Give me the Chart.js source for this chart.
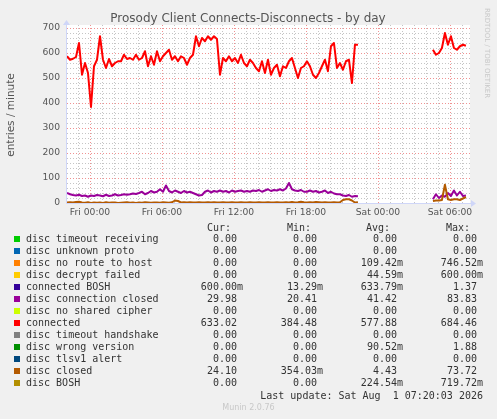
<!DOCTYPE html>
<html>
<head>
<meta charset="utf-8">
<script src="https://cdn.jsdelivr.net/npm/chart.js@4.4.1/dist/chart.umd.min.js"></script>
<style>
  body { margin: 0; background: #f0f0f0; width: 497px; height: 419px; overflow: hidden; position: relative; }
  #wrap { position: absolute; left: 0; top: 0; width: 497px; height: 220px; }
  #legend { position: absolute; left: 0; top: 0; width: 497px; height: 419px; font-family: "DejaVu Sans Mono", monospace; font-size: 10px; color: #333; }
  .t { position: absolute; white-space: pre; line-height: 12px; }
  .sq { position: absolute; width: 6px; height: 6px; }
  #munin { position: absolute; left: 0; width: 497px; top: 403px; text-align: center; font: 8px "DejaVu Sans", sans-serif; color: #c8c8c8; }
</style>
</head>
<body>
<div id="wrap"><canvas id="grafica" width="497" height="220"></canvas></div>
<div id="legend"></div>
<div id="munin">Munin 2.0.76</div>
<script>
// muestras cada 15 min, la primera en Thu 22:05 (horas relativas a Fri 00:00)
const START_HOUR = -1.92;
const STEP_HOUR = 0.25;
const X_MIN = -1.92, X_MAX = 31.67;

const tickHours = [0, 6, 12, 18, 24, 30];
const tickLabels = ['Fri 00:00', 'Fri 06:00', 'Fri 12:00', 'Fri 18:00', 'Sat 00:00', 'Sat 06:00'];
const yTicks = [0, 100, 200, 300, 400, 500, 600, 700];

const gap = new Array(24).fill(null); // hueco sin datos (Fri 22:30 - Sat 04:30)

const connected = [
  587,573,577,584,640,513,560,520,384,547,
  573,667,573,540,576,547,560,567,567,593,
  576,580,573,593,573,580,607,547,587,553,
  607,567,587,600,613,573,587,567,587,580,
  553,580,593,667,627,660,647,667,653,667,
  656,513,580,567,587,567,580,560,593,560,
  547,573,560,540,527,567,520,573,513,540,
  553,507,547,540,567,580,540,500,540,547,
  567,547,513,500,520,547,573,527,627,640,
  540,560,533,567,573,480,633,633,
  ...gap,
  613,593,600,620,680,633,667,620,613,627,633,629
];

const connClosed = [
  40,35,32,30,33,28,30,25,30,28,
  32,30,27,33,28,30,35,30,32,35,
  33,35,38,36,40,45,35,40,48,42,
  45,55,45,70,48,42,50,45,40,48,
  42,45,40,35,30,32,45,50,42,48,
  45,50,45,48,42,50,45,48,50,45,
  48,45,50,48,52,45,50,55,48,52,
  50,55,50,58,80,55,50,48,52,45,
  45,50,45,48,42,45,50,40,45,38,
  35,35,30,28,32,25,28,27,
  ...gap,
  15,35,20,30,25,40,28,50,30,45,28,30
];

const discClosed = [
  2,3,2,4,5,2,1,3,0,2,
  1,2,0,3,1,2,2,0,1,2,
  3,1,2,0,2,1,3,2,1,2,
  2,1,3,2,1,3,10,8,2,3,
  2,3,2,2,3,2,2,3,2,3,
  2,2,3,2,2,3,2,2,3,2,
  2,3,2,2,3,2,2,3,2,2,
  3,2,2,3,2,4,2,3,5,3,
  2,3,2,4,3,2,3,2,2,3,
  2,3,12,15,15,10,2,3,
  ...gap,
  8,10,10,12,73,15,12,15,15,12,18,24
];

// leyenda
const legendNames = ['disc timeout receiving','disc unknown proto','disc no route to host','disc decrypt failed',
  'connected BOSH','disc connection closed','disc no shared cipher','connected','disc timeout handshake',
  'disc wrong version','disc tlsv1 alert','disc closed','disc BOSH'];
const legendColors = ['#00CC00','#0066B3','#FF8000','#FFCC00','#330099','#990099','#CCFF00','#FF0000',
  '#808080','#008F00','#00487D','#B35A00','#B38F00'];
const curVals = ['0.00 ','0.00 ','0.00 ','0.00 ','600.00m','29.98 ','0.00 ','633.02 ','0.00 ','0.00 ','0.00 ','24.10 ','0.00 '];
const minVals = ['0.00 ','0.00 ','0.00 ','0.00 ','13.29m','20.41 ','0.00 ','384.48 ','0.00 ','0.00 ','0.00 ','354.03m','0.00 '];
const avgVals = ['0.00 ','0.00 ','109.42m','44.59m','633.79m','41.42 ','0.00 ','577.88 ','0.00 ','90.52m','0.00 ','4.43 ','224.54m'];
const maxVals = ['0.00 ','0.00 ','746.52m','600.00m','1.37 ','83.83 ','0.00 ','684.46 ','0.00 ','1.88 ','0.00 ','73.72 ','719.72m'];

function toPoints(values) {
  return values.map((v, i) => ({ x: START_HOUR + i * STEP_HOUR, y: v }));
}

// rejilla, ejes, flechas y textos al estilo rrdtool
const decor = {
  id: 'decor',
  beforeDatasetsDraw(chart) {
    const { ctx, chartArea: a, scales: { x, y } } = chart;
    ctx.save();
    ctx.fillStyle = '#ffffff';
    ctx.fillRect(a.left, a.top - 3, a.right - a.left, a.bottom - a.top + 3);
    ctx.lineWidth = 1;
    ctx.setLineDash([1, 2]);
    // menores
    ctx.strokeStyle = 'rgba(150,150,150,0.55)';
    for (let v = 0; v <= 700; v += 20) {
      if (v % 100 === 0) continue;
      const py = Math.round(y.getPixelForValue(v)) + 0.5;
      ctx.beginPath(); ctx.moveTo(a.left, py); ctx.lineTo(a.right, py); ctx.stroke();
    }
    for (let h = -1; h <= 31; h++) {
      if (h % 6 === 0) continue;
      const px = Math.round(x.getPixelForValue(h)) + 0.5;
      ctx.beginPath(); ctx.moveTo(px, a.top - 3); ctx.lineTo(px, a.bottom); ctx.stroke();
    }
    // mayores
    ctx.strokeStyle = 'rgba(235,110,110,0.75)';
    for (let v = 100; v <= 700; v += 100) {
      const py = Math.round(y.getPixelForValue(v)) + 0.5;
      ctx.beginPath(); ctx.moveTo(a.left, py); ctx.lineTo(a.right, py); ctx.stroke();
    }
    tickHours.forEach(h => {
      const px = Math.round(x.getPixelForValue(h)) + 0.5;
      ctx.beginPath(); ctx.moveTo(px, a.top - 3); ctx.lineTo(px, a.bottom); ctx.stroke();
    });
    ctx.restore();
  },
  afterDraw(chart) {
    const { ctx, chartArea: a } = chart;
    ctx.save();
    // ejes
    ctx.strokeStyle = '#CFD6F8';
    ctx.fillStyle = '#CFD6F8';
    ctx.lineWidth = 1;
    ctx.beginPath(); ctx.moveTo(a.left - 0.5, a.top - 4); ctx.lineTo(a.left - 0.5, a.bottom + 0.5); ctx.lineTo(a.right + 2, a.bottom + 0.5); ctx.stroke();
    ctx.beginPath(); ctx.moveTo(a.right + 1, a.bottom - 3); ctx.lineTo(a.right + 6, a.bottom + 0.5); ctx.lineTo(a.right + 1, a.bottom + 4); ctx.fill();
    ctx.beginPath(); ctx.moveTo(a.left - 4, a.top - 3); ctx.lineTo(a.left - 0.5, a.top - 8); ctx.lineTo(a.left + 3, a.top - 3); ctx.fill();
    // título
    ctx.fillStyle = '#555';
    ctx.font = '12px "DejaVu Sans"';
    ctx.textAlign = 'center';
    ctx.textBaseline = 'middle';
    ctx.fillText('Prosody Client Connects-Disconnects - by day', 248, 19);
    // título eje y
    ctx.font = '10.5px "DejaVu Sans"';
    ctx.translate(11, 115);
    ctx.rotate(-Math.PI / 2);
    ctx.fillText('entries / minute', 0, 0);
    ctx.restore();
    // marca de agua
    ctx.save();
    ctx.fillStyle = '#c8c8c8';
    ctx.font = '7px "DejaVu Sans"';
    ctx.textAlign = 'center';
    ctx.textBaseline = 'middle';
    ctx.translate(487, 53);
    ctx.rotate(Math.PI / 2);
    ctx.fillText('RRDTOOL / TOBI OETIKER', 0, 0);
    ctx.restore();
  }
};

const ctxGrafica = document.getElementById('grafica').getContext('2d');
new Chart(ctxGrafica, {
  type: 'line',
  data: {
    datasets: [
      { label: 'disc closed', data: toPoints(discClosed), borderColor: '#B35A00', order: 0 },
      { label: 'disc connection closed', data: toPoints(connClosed), borderColor: '#990099', order: 1 },
      { label: 'connected', data: toPoints(connected), borderColor: '#FF0000', order: 2 }
    ]
  },
  options: {
    responsive: false,
    animation: false,
    spanGaps: false,
    datasets: { line: { borderWidth: 2, pointRadius: 0, tension: 0, borderJoinStyle: 'round', fill: false } },
    layout: { padding: { left: 0, right: 27, top: 28, bottom: 0 } },
    plugins: { legend: { display: false }, tooltip: { enabled: false } },
    scales: {
      x: {
        type: 'linear', min: X_MIN, max: X_MAX,
        afterBuildTicks: s => { s.ticks = tickHours.map(v => ({ value: v })); },
        afterFit: s => { s.height = 17; },
        grid: { display: false, drawTicks: false },
        border: { display: false },
        ticks: {
          autoSkip: false, maxRotation: 0, minRotation: 0, padding: 4, color: '#555',
          font: { family: 'DejaVu Sans', size: 9.2 },
          callback: (v) => tickLabels[tickHours.indexOf(v)]
        }
      },
      y: {
        min: 0, max: 700,
        afterBuildTicks: s => { s.ticks = yTicks.map(v => ({ value: v })); },
        afterFit: s => { s.width = 67; },
        grid: { display: false, drawTicks: false },
        border: { display: false },
        ticks: { padding: 7, color: '#555', font: { family: 'DejaVu Sans', size: 9.2 } }
      }
    }
  },
  plugins: [decor]
});

// tabla de leyenda (Cur / Min / Avg / Max)
const leg = document.getElementById('legend');
function addText(txt, top, opts) {
  const d = document.createElement('div');
  d.className = 't';
  d.textContent = txt;
  d.style.top = top + 'px';
  if (opts.left !== undefined) d.style.left = opts.left + 'px';
  if (opts.right !== undefined) { d.style.right = (497 - opts.right) + 'px'; d.style.textAlign = 'right'; }
  leg.appendChild(d);
}
const headerY = 227.7 - 6;
addText('Cur:', headerY, { right: 231 });
addText('Min:', headerY, { right: 311 });
addText('Avg:', headerY, { right: 390 });
addText('Max:', headerY, { right: 470 });
legendNames.forEach((name, i) => {
  const top = 239.3 + 12 * i - 6;
  const sq = document.createElement('div');
  sq.className = 'sq';
  sq.style.left = '14px';
  sq.style.top = (top + 3) + 'px';
  sq.style.background = legendColors[i];
  leg.appendChild(sq);
  addText(name, top, { left: 26 });
  addText(curVals[i], top, { right: 243 });
  addText(minVals[i], top, { right: 323 });
  addText(avgVals[i], top, { right: 403 });
  addText(maxVals[i], top, { right: 483 });
});
addText('Last update: Sat Aug  1 07:20:03 2026', 395.7 - 6, { right: 483 });
</script>
</body>
</html>
